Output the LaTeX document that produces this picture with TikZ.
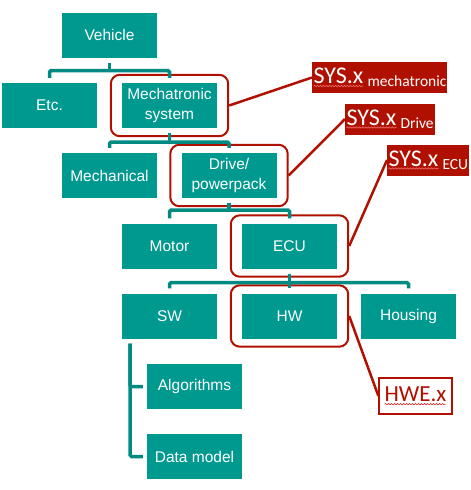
\documentclass[tikz,border=0pt]{standalone}
\usepackage{fontspec}
\setmainfont{Liberation Sans}
\newfontfamily\labelfont{Carlito}
\usetikzlibrary{positioning, fit, calc, decorations.pathmorphing}
\definecolor{tealbox}{RGB}{0,153,143}
\definecolor{tealline}{RGB}{0,138,130}
\definecolor{redmark}{RGB}{176,16,0}
\definecolor{sqpink}{RGB}{240,110,110}
\definecolor{sqred}{RGB}{225,40,40}

% wavy underline under a word
\newcommand{\squig}[2]{\tikz[baseline=(sq.base)]{\node[inner sep=0pt, outer sep=0pt, minimum width=0pt, minimum height=0pt, draw=none, fill=none] (sq) {#2};
  \draw[#1, line width=0.6pt, decorate, decoration={snake, amplitude=0.7pt, segment length=3pt}] ([yshift=-2.5pt]sq.base west) -- ([yshift=-2.5pt]sq.base east);}}

\begin{document}
\begin{tikzpicture}[x=1pt, y=-1pt,
  box/.style={fill=tealbox, text=white, minimum width=95pt, minimum height=45pt, inner sep=2pt, align=center, font=\fontsize{15.5}{20.5}\selectfont},
  treeline/.style={draw=tealline, line width=3.5pt, rounded corners=1.5pt},
  ring/.style={draw=redmark, line width=2pt, rounded corners=9pt, inner xsep=11pt, inner ysep=8pt},
  syslabel/.style={fill=redmark, text=white, anchor=west, inner xsep=1pt, inner ysep=0pt, minimum height=31pt, font=\labelfont\fontsize{24}{24}\selectfont},
  hwlabel/.style={draw=redmark, fill=white, text=redmark, line width=1.2pt, minimum width=73pt, minimum height=36pt, inner sep=2pt, font=\labelfont\fontsize{23}{24}\selectfont},
  link/.style={draw=redmark, line width=2.5pt},
]
\useasboundingbox (0,0) rectangle (471,490);

% Tree boxes
\node[box] (veh) at (109.5,35) {Vehicle};
\node[box] (etc) at (49.5,105.5) {Etc.};
\node[box] (mech) at (169.5,105.5) {Mechatronic\\system};
\node[box] (mecl) at (109.5,175.5) {Mechanical};
\node[box] (drive) at (229,175.5) {Drive/\\powerpack};
\node[box] (motor) at (169.5,246) {Motor};
\node[box] (ecu) at (289.5,246) {ECU};
\node[box] (sw) at (169.5,316) {SW};
\node[box] (hw) at (289.5,316) {HW};
\node[box] (hous) at (408.5,316) {Housing};
\node[box] (algo) at (194.5,386.5) {Algorithms};
\node[box] (data) at (194.5,456.5) {Data model};

% Red frames
\node[ring, fit=(mech)] (fmech) {};
\node[ring, fit=(drive)] (fdrive) {};
\node[ring, fit=(ecu)] (fecu) {};
\node[ring, fit=(hw)] (fhw) {};

% Tree connectors
\coordinate (vbar) at ([yshift=-13pt]veh.south);
\draw[treeline] ([yshift=-5pt]veh.south) -- (vbar);
\draw[treeline] ([yshift=5pt]etc.north) |- (vbar) -| ([yshift=5pt]mech.north);

\coordinate (mbar) at ([yshift=-14pt]mech.south);
\draw[treeline] ([yshift=-5pt]mech.south) -- (mbar);
\draw[treeline] ([yshift=5pt]mecl.north) |- (mbar) -| ([yshift=5pt]drive.north);

\coordinate (dbar) at ([yshift=-12pt]drive.south);
\draw[treeline] ([yshift=-5pt]drive.south) -- (dbar);
\draw[treeline] ([yshift=5pt]motor.north) |- (dbar) -| ([yshift=5pt]ecu.north);

\coordinate (ebar) at ([yshift=-14pt]ecu.south);
\draw[treeline] ([yshift=-5pt]ecu.south) -- (ebar);
\draw[treeline] ([yshift=5pt]sw.north) |- (ebar) -| ([yshift=5pt]hous.north);
\draw[treeline] (ebar) -- ([yshift=5pt]hw.north);

\coordinate (swtop) at ([xshift=-39.5pt, yshift=-5pt]sw.south);
\draw[treeline] (swtop) |- ([xshift=-4pt]data.west);
\draw[treeline] (swtop) |- ([xshift=-4pt]algo.west);

% Labels
\node[syslabel] (lmech) at (312,77.5) {\squig{sqpink}{SYS.x}\,\raisebox{-3pt}{\fontsize{15.5}{16}\selectfont mechatronic}};
\node[syslabel] (ldrive) at (345,119) {\squig{sqpink}{SYS.x}\,\raisebox{-3pt}{\fontsize{15.5}{16}\selectfont Drive}};
\node[syslabel] (lecu) at (387,160) {\squig{sqpink}{SYS.x}\,\raisebox{-3pt}{\fontsize{15.5}{16}\selectfont ECU}};
\node[hwlabel] (hwe) at (415.5,396) {\squig{sqred}{HWE.x}};

\draw[link] (fmech.east) -- (lmech.west);
\draw[link] (fdrive.east) -- (ldrive.west);
\draw[link] (fecu.east) -- (lecu.west);
\draw[link] (fhw.east) -- (hwe.west);
\end{tikzpicture}
\end{document}
